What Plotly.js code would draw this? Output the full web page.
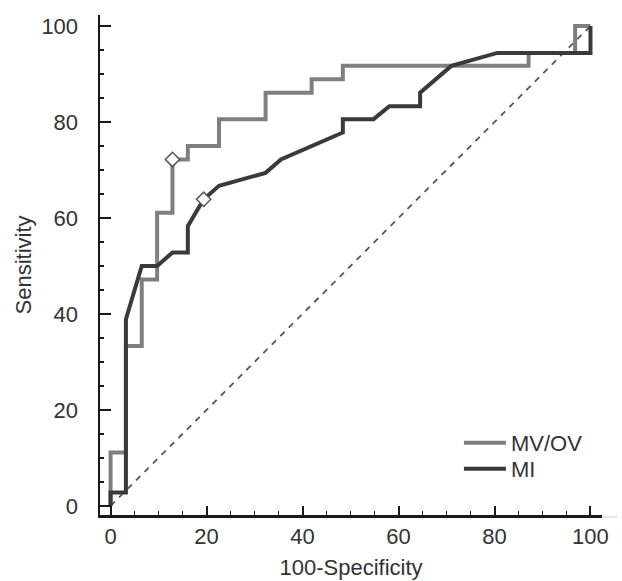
<!DOCTYPE html>
<html>
<head>
<meta charset="utf-8">
<script src="https://cdn.plot.ly/plotly-3.0.1.min.js"></script>
<style>html,body{margin:0;padding:0;background:#fff;}#chart{width:622px;height:581px;}</style>
</head>
<body>
<div id="chart"></div>
<script>
// MV/OV ROC curve (100-Specificity, Sensitivity)
const mvovX = [0, 0, 3.2, 3.2, 6.5, 6.5, 9.7, 9.7, 12.9, 12.9, 16.1, 16.1, 22.6, 22.6, 32.3, 32.3, 41.9, 41.9, 48.4, 48.4, 87.1, 87.1, 96.8, 96.8, 100];
const mvovY = [0, 11.1, 11.1, 33.3, 33.3, 47.2, 47.2, 61.1, 61.1, 72.2, 72.2, 75.0, 75.0, 80.6, 80.6, 86.1, 86.1, 88.9, 88.9, 91.7, 91.7, 94.4, 94.4, 100, 100];
// MI ROC curve
const miX = [0, 0, 3.2, 3.2, 6.5, 9.7, 12.9, 16.1, 16.1, 19.4, 22.6, 32.3, 35.5, 48.4, 48.4, 54.8, 58.1, 64.5, 64.5, 71.0, 80.6, 100, 100];
const miY = [0, 2.8, 2.8, 38.9, 50.0, 50.0, 52.8, 52.8, 58.3, 63.9, 66.7, 69.4, 72.2, 77.8, 80.6, 80.6, 83.3, 83.3, 86.1, 91.7, 94.4, 94.4, 100];
// Optimal criterion points
const mvovCritX = [12.9], mvovCritY = [72.2];
const miCritX = [19.4], miCritY = [63.9];
// Reference (chance) line
const refX = [0, 100], refY = [0, 100];
const tickVals = [0, 20, 40, 60, 80, 100];
const seriesNames = ['MV/OV', 'MI'];

const FONT = 'Liberation Sans, Arial, sans-serif';
const traces = [
  {x: refX, y: refY, mode: 'lines', line: {color: '#555555', width: 1.8, dash: '6px,6px'}, showlegend: false, hoverinfo: 'skip'},
  {x: mvovX, y: mvovY, mode: 'lines', name: seriesNames[0], legend: 'legend', line: {color: '#7f7f7f', width: 4}},
  {x: miX, y: miY, mode: 'lines', name: seriesNames[1], legend: 'legend2', line: {color: '#3a3a3a', width: 4}},
  {x: mvovCritX, y: mvovCritY, mode: 'markers', showlegend: false, marker: {symbol: 'diamond', size: 11, color: '#ffffff', line: {color: '#555555', width: 1.5}}},
  {x: miCritX, y: miCritY, mode: 'markers', showlegend: false, marker: {symbol: 'diamond', size: 11, color: '#ffffff', line: {color: '#555555', width: 1.5}}}
];

const axisCommon = {
  showgrid: false, zeroline: false, showline: true, linecolor: '#1a1a1a', linewidth: 2.5,
  ticks: 'inside', tickcolor: '#1a1a1a', tickwidth: 2, tickmode: 'array', tickvals: tickVals,
  tickfont: {family: FONT, size: 22, color: '#333333'},
  minor: {dtick: 5, tick0: 0, ticks: 'inside', ticklen: 4, tickwidth: 1.5, tickcolor: '#1a1a1a'}
};

const legendCommon = {x: 0.715, xanchor: 'left', yanchor: 'middle', bgcolor: 'rgba(0,0,0,0)', itemwidth: 42,
  font: {family: FONT, size: 22, color: '#333333'}};

const layout = {
  width: 622, height: 581,
  margin: {l: 100, r: 20, t: 15, b: 66},
  paper_bgcolor: '#ffffff', plot_bgcolor: '#ffffff',
  font: {family: FONT, color: '#333333'},
  xaxis: Object.assign({}, axisCommon, {
    range: [-2.2, 102.4], ticklen: 9, ticklabelstandoff: 0,
    title: {text: '100-Specificity', font: {family: FONT, size: 22, color: '#333333'}, standoff: 12}
  }),
  yaxis: Object.assign({}, axisCommon, {
    range: [-1.9, 102.3], ticklen: 11, ticklabelstandoff: 15,
    title: {text: 'Sensitivity', font: {family: FONT, size: 22, color: '#333333'}, standoff: 4}
  }),
  legend: Object.assign({}, legendCommon, {y: 0.144}),
  legend2: Object.assign({}, legendCommon, {y: 0.092}),
  shapes: [{type: 'line', xref: 'paper', yref: 'paper', x0: 1.0, x1: 1.03, y0: -0.004, y1: -0.004, line: {color: '#cccccc', width: 1}}],
  showlegend: true
};

Plotly.newPlot('chart', traces, layout, {displayModeBar: false, staticPlot: true});
</script>
</body>
</html>
